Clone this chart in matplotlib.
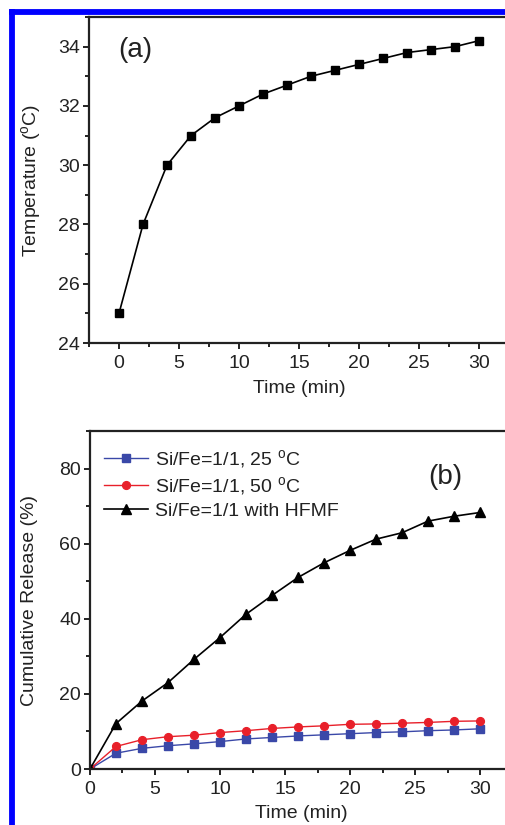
import numpy as np
import matplotlib
matplotlib.use("Agg")
import matplotlib.pyplot as plt
from matplotlib.lines import Line2D
from matplotlib.ticker import MultipleLocator

plt.rcParams['font.family'] = ['Liberation Sans', 'DejaVu Sans']
plt.rcParams['mathtext.fontset'] = 'custom'
plt.rcParams['mathtext.rm'] = 'Liberation Sans'

# heating curve under the field
time_a = [0, 2, 4, 6, 8, 10, 12, 14, 16, 18, 20, 22, 24, 26, 28, 30]
temp_a = [25.0, 28.0, 30.0, 31.0, 31.6, 32.0, 32.4, 32.7, 33.0, 33.2,
          33.4, 33.6, 33.8, 33.9, 34.0, 34.2]

# cumulative release
time_b = [0, 2, 4, 6, 8, 10, 12, 14, 16, 18, 20, 22, 24, 26, 28, 30]
rel_25 = [0, 4.2, 5.5, 6.2, 6.7, 7.3, 8.0, 8.4, 8.8, 9.1, 9.4, 9.7, 9.9,
          10.2, 10.4, 10.7]
rel_50 = [0, 6.0, 7.8, 8.6, 9.0, 9.7, 10.2, 10.8, 11.2, 11.5, 11.9, 12.0,
          12.2, 12.4, 12.7, 12.8]
rel_hfmf = [0, 12.1, 18.1, 23.0, 29.2, 35.0, 41.2, 46.2, 51.0, 54.9, 58.2,
            61.2, 62.9, 66.0, 67.3, 68.3]
labels_b = ['Si/Fe=1/1, 25 $^\\mathrm{o}$C', 'Si/Fe=1/1, 50 $^\\mathrm{o}$C',
            'Si/Fe=1/1 with HFMF']

W, H = 506, 825
fig = plt.figure(figsize=(W / 100, H / 100), dpi=100)

def px(x0, y0, x1, y1):
    # pixel box (left, top, right, bottom) -> figure fraction
    return [x0 / W, 1 - y1 / H, (x1 - x0) / W, (y1 - y0) / H]

ink = '#222222'
FS = 14

def style(ax):
    for s in ax.spines.values():
        s.set_linewidth(1.6)
        s.set_color(ink)
    ax.tick_params(which='both', direction='out', width=1.4, colors=ink,
                   labelsize=FS)
    ax.tick_params(axis='x', which='both', pad=4)
    ax.tick_params(axis='y', which='both', pad=2)
    ax.tick_params(which='major', length=4.5)
    ax.tick_params(which='minor', length=3)

ax1 = fig.add_axes(px(89, 17, 509, 343))
ax1.plot(time_a, temp_a, '-s', color='black', lw=1.2, ms=5.4)
ax1.set_xlim(-2.5, 32.5)
ax1.set_ylim(24, 35)
ax1.xaxis.set_major_locator(MultipleLocator(5))
ax1.xaxis.set_minor_locator(MultipleLocator(2.5))
ax1.yaxis.set_major_locator(MultipleLocator(2))
ax1.yaxis.set_minor_locator(MultipleLocator(1))
style(ax1)
ax1.set_xlabel('Time (min)', fontsize=FS, color=ink, labelpad=6)
ax1.set_ylabel('Temperature ($^\\mathrm{o}$C)', fontsize=FS, color=ink, labelpad=10)
ax1.text(1.4, 33.9, '(a)', fontsize=20, color=ink, ha='center', va='center')

ax2 = fig.add_axes(px(90, 431, 512.5, 769))
ax2.plot(time_b, rel_25, '-s', color='#3a48a8', lw=1.0, ms=5.2, label=labels_b[0])
ax2.plot(time_b, rel_50, '-o', color='#e8202a', lw=1.0, ms=5.6, label=labels_b[1])
ax2.plot(time_b, rel_hfmf, '-^', color='black', lw=1.2, ms=6.5, label=labels_b[2])
ax2.set_xlim(0, 32.5)
ax2.set_ylim(0, 90)
ax2.xaxis.set_major_locator(MultipleLocator(5))
ax2.xaxis.set_minor_locator(MultipleLocator(2.5))
ax2.yaxis.set_major_locator(MultipleLocator(20))
ax2.yaxis.set_minor_locator(MultipleLocator(10))
style(ax2)
ax2.set_xlabel('Time (min)', fontsize=FS, color=ink, labelpad=5)
ax2.set_ylabel('Cumulative Release (%)', fontsize=FS, color=ink, labelpad=15)
ax2.text(27.3, 77.7, '(b)', fontsize=20, color=ink, ha='center', va='center')
leg = ax2.legend(loc='upper left', bbox_to_anchor=(0.0, 0.99), frameon=False,
                 fontsize=FS, handlelength=2.3, handletextpad=0.35,
                 labelspacing=0.22, borderaxespad=0.3)
for t in leg.get_texts():
    t.set_color(ink)

# blue frame on the left and top edges
fig.add_artist(Line2D([12.5 / W, 12.5 / W], [-0.01, 1 - 12 / H],
                      color='#0000ff', lw=4.2, solid_capstyle='projecting'))
fig.add_artist(Line2D([12.5 / W, 1.01], [1 - 12 / H, 1 - 12 / H],
                      color='#0000ff', lw=4.2, solid_capstyle='projecting'))

fig.savefig('out.png', dpi=100)
